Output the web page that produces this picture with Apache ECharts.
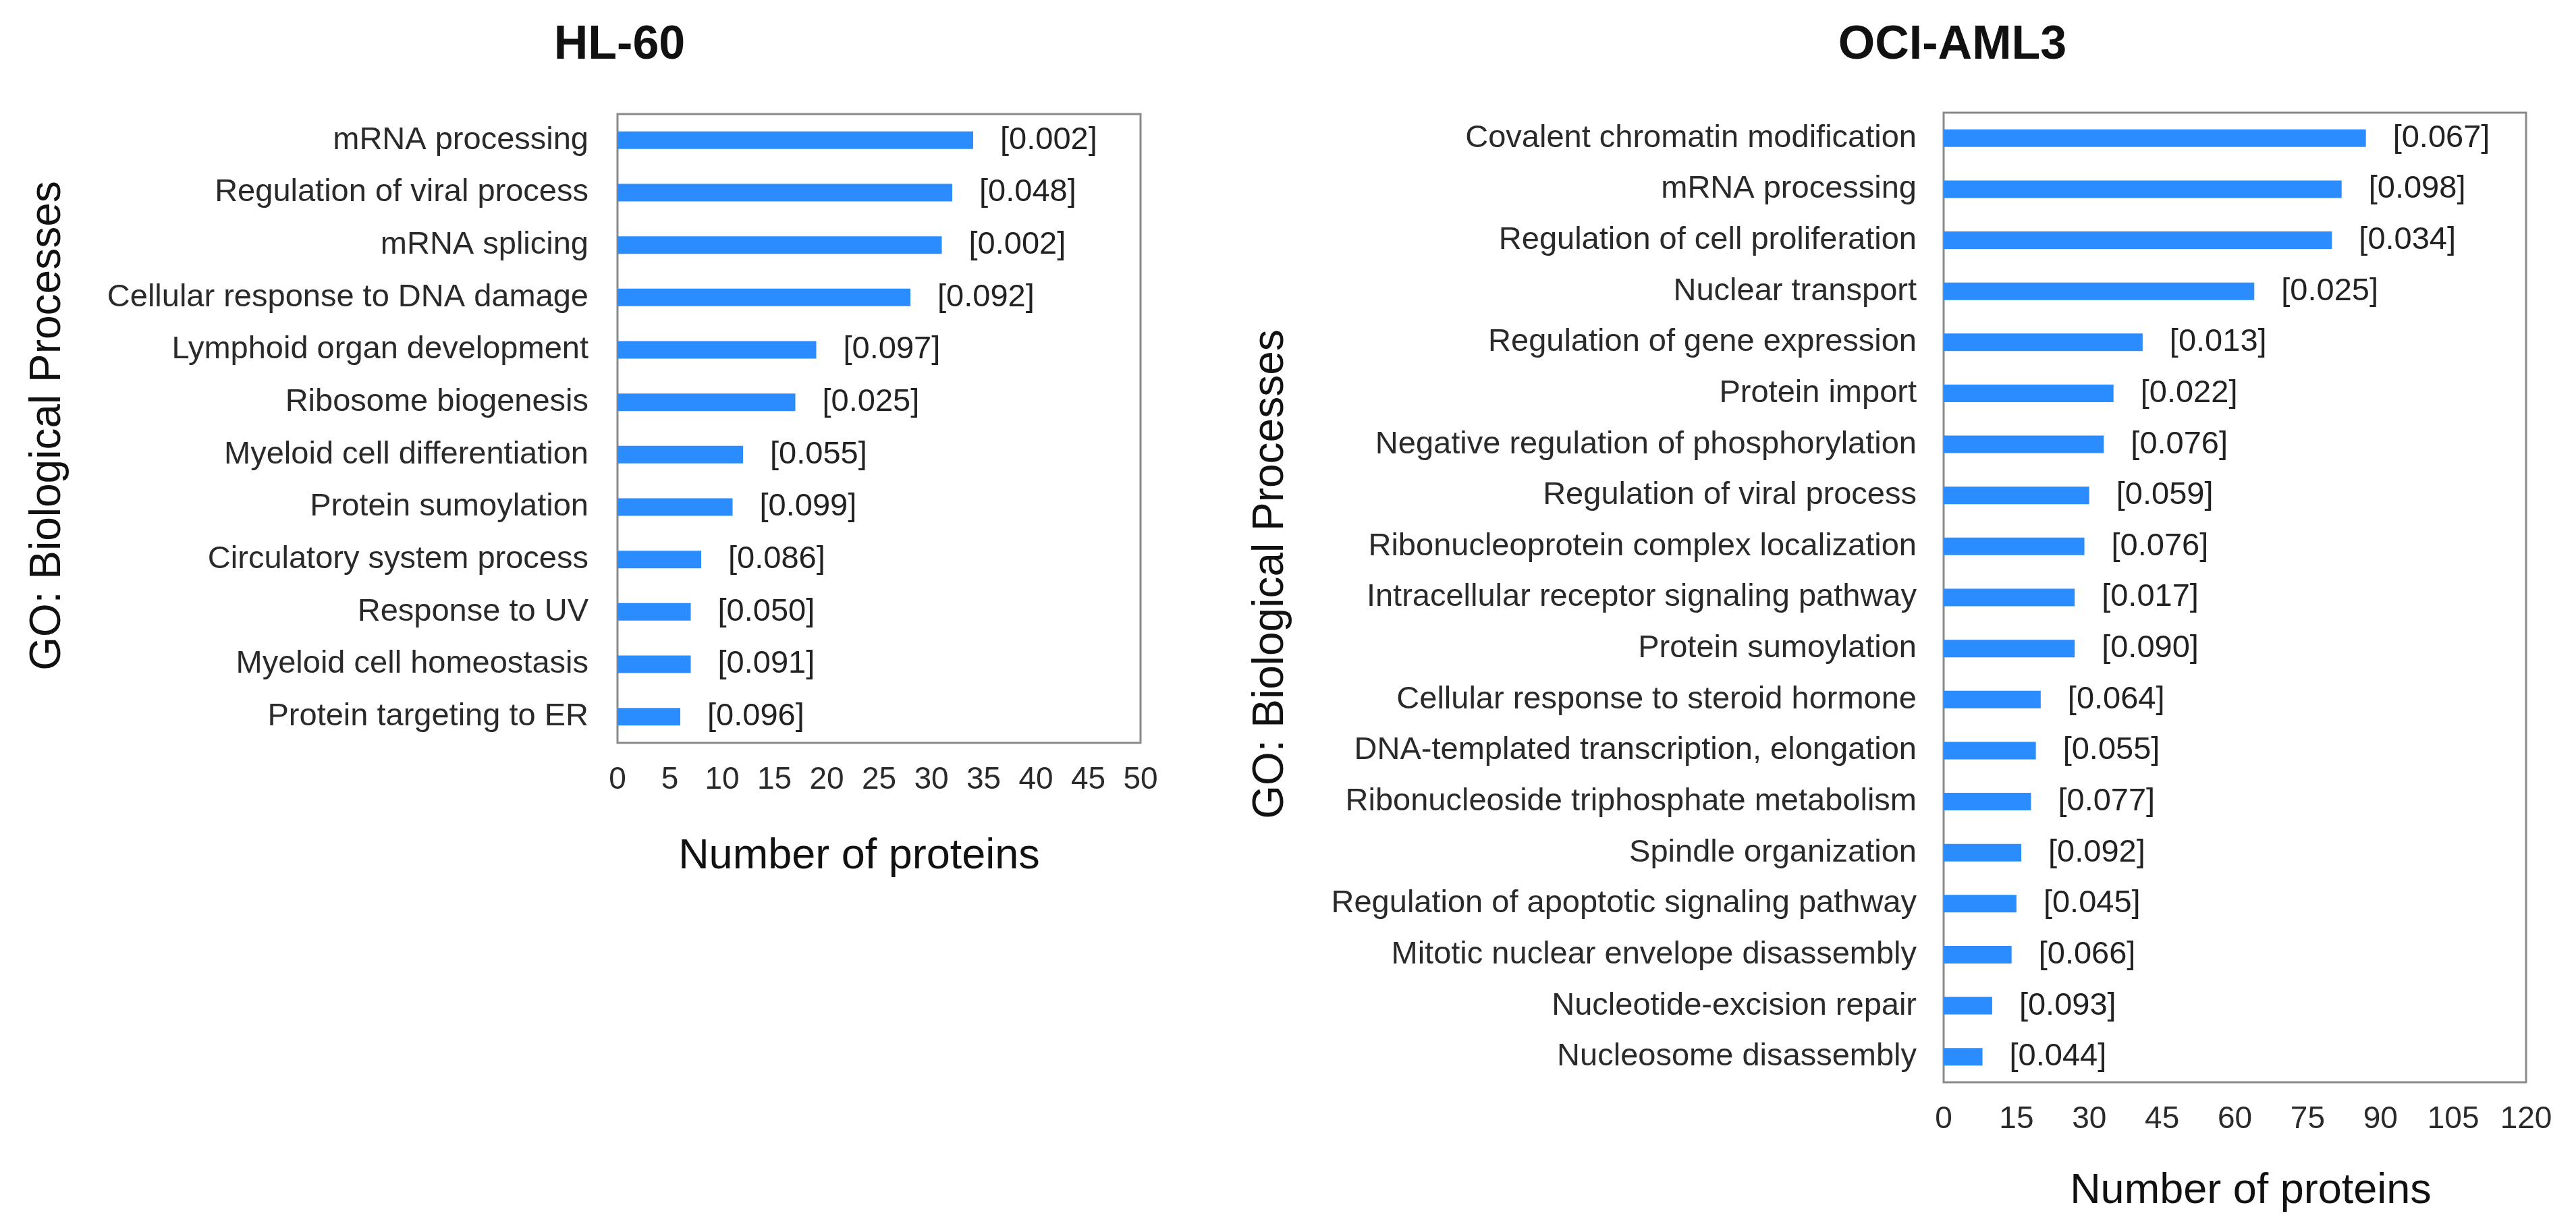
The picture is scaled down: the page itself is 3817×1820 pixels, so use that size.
<!DOCTYPE html>
<html>
<head>
<meta charset="utf-8">
<script src="https://cdn.jsdelivr.net/npm/echarts@6/dist/echarts.min.js"></script>
<style>
html,body{margin:0;padding:0;background:#fff;}
#chart{width:3817px;height:1820px;}
</style>
</head>
<body>
<div id="chart"></div>
<script>
const hl60Categories = ['mRNA processing','Regulation of viral process','mRNA splicing','Cellular response to DNA damage','Lymphoid organ development','Ribosome biogenesis','Myeloid cell differentiation','Protein sumoylation','Circulatory system process','Response to UV','Myeloid cell homeostasis','Protein targeting to ER'];
const hl60Counts = [34,32,31,28,19,17,12,11,8,7,7,6];
const hl60PValues = ['0.002','0.048','0.002','0.092','0.097','0.025','0.055','0.099','0.086','0.050','0.091','0.096'];
const hl60AxisMin = 0, hl60AxisMax = 50, hl60AxisStep = 5;

const ociCategories = ['Covalent chromatin modification','mRNA processing','Regulation of cell proliferation','Nuclear transport','Regulation of gene expression','Protein import','Negative regulation of phosphorylation','Regulation of viral process','Ribonucleoprotein complex localization','Intracellular receptor signaling pathway','Protein sumoylation','Cellular response to steroid hormone','DNA-templated transcription, elongation','Ribonucleoside triphosphate metabolism','Spindle organization','Regulation of apoptotic signaling pathway','Mitotic nuclear envelope disassembly','Nucleotide-excision repair','Nucleosome disassembly'];
const ociCounts = [87,82,80,64,41,35,33,30,29,27,27,20,19,18,16,15,14,10,8];
const ociPValues = ['0.067','0.098','0.034','0.025','0.013','0.022','0.076','0.059','0.076','0.017','0.090','0.064','0.055','0.077','0.092','0.045','0.066','0.093','0.044'];
const ociAxisMin = 0, ociAxisMax = 120, ociAxisStep = 15;

const titles = ['HL-60','OCI-AML3'];
const yName = 'GO: Biological Processes';
const xName = 'Number of proteins';

const FONT = '"Liberation Sans", Arial, Helvetica, sans-serif';
const BAR = '#2a8cff';
const TXT = '#2a2a2a';

const chart = echarts.init(document.getElementById('chart'), null, {renderer:'canvas'});

function xAx(gi, min, max, step){
  return {
    type:'value', gridIndex:gi, min:min, max:max, interval:step,
    axisLine:{show:false}, axisTick:{show:false}, splitLine:{show:false},
    axisLabel:{fontSize:46, color:TXT, fontFamily:FONT, margin:32}
  };
}
function yAx(gi, cats, margin){
  return {
    type:'category', gridIndex:gi, data:cats, inverse:true,
    axisLine:{show:false}, axisTick:{show:false}, splitLine:{show:false},
    axisLabel:{fontSize:47, color:TXT, fontFamily:FONT, margin:margin}
  };
}
function barSeries(idx, vals, pv){
  return {
    type:'bar', xAxisIndex:idx, yAxisIndex:idx, data:vals, barWidth:26,
    itemStyle:{color:BAR}, silent:true,
    label:{show:true, position:'right', distance:40, fontSize:47, color:'#222', fontFamily:FONT,
      formatter:function(p){return '[' + pv[p.dataIndex] + ']';}}
  };
}
function txt(x, y, text, size, weight, rot){
  return {type:'text', x:x, y:y, rotation:rot||0, silent:true,
    style:{text:text, fontSize:size, fontWeight:weight, fontFamily:FONT, fill:'#111',
      textAlign:'center', textVerticalAlign:'middle'}};
}

chart.setOption({
  backgroundColor:'#ffffff',
  animation:false,
  grid:[
    {left:915, top:169, width:775, height:932, show:true, borderColor:'#8a8a8a', borderWidth:3, backgroundColor:'transparent'},
    {left:2880, top:167, width:863, height:1437, show:true, borderColor:'#8a8a8a', borderWidth:3, backgroundColor:'transparent'}
  ],
  xAxis:[ xAx(0, hl60AxisMin, hl60AxisMax, hl60AxisStep), xAx(1, ociAxisMin, ociAxisMax, ociAxisStep) ],
  yAxis:[ yAx(0, hl60Categories, 43), yAx(1, ociCategories, 40) ],
  series:[ barSeries(0, hl60Counts, hl60PValues), barSeries(1, ociCounts, ociPValues) ],
  graphic:[
    txt(918, 68, titles[0], 70, 'bold'),
    txt(2893, 68, titles[1], 70, 'bold'),
    txt(71, 631, yName, 64, 'normal', Math.PI/2),
    txt(1883, 851, yName, 64, 'normal', Math.PI/2),
    txt(1273, 1270, xName, 63, 'normal'),
    txt(3335, 1766, xName, 63, 'normal')
  ]
});
</script>
</body>
</html>
